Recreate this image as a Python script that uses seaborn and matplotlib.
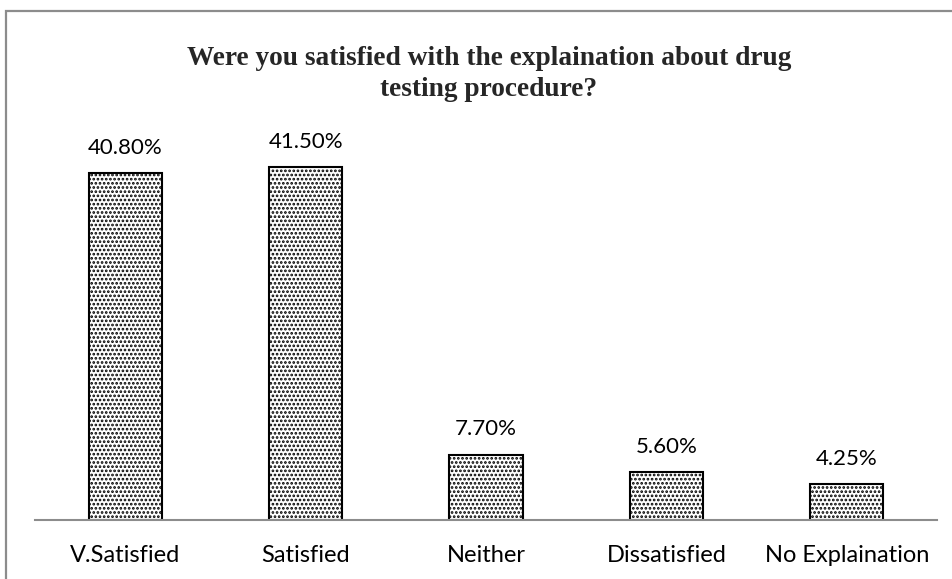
import matplotlib
matplotlib.use("Agg")
import matplotlib.pyplot as plt
import seaborn as sns
import pandas as pd
from matplotlib.patches import Rectangle

# Data
categories = ["V.Satisfied", "Satisfied", "Neither", "Dissatisfied", "No Explaination"]
percentages = [40.80, 41.50, 7.70, 5.60, 4.25]
value_labels = ["40.80%", "41.50%", "7.70%", "5.60%", "4.25%"]

df = pd.DataFrame({"category": categories, "pct": percentages})

sns.set_style("white")
plt.rcParams["font.family"] = ["Lato", "DejaVu Sans"]
plt.rcParams["hatch.linewidth"] = 1.3
plt.rcParams["hatch.color"] = "#3a3a3a"

W, H = 952, 579
fig = plt.figure(figsize=(W / 100, H / 100), dpi=100)
ax = fig.add_axes([35 / W, 1 - 520 / H, (937 - 35) / W, (520 - 100) / H])

sns.barplot(data=df, x="category", y="pct", ax=ax, width=0.405,
            color="white", edgecolor="black", linewidth=1.5)
for bar in ax.patches:
    bar.set_hatch("....")
    bar.set_edgecolor("black")

for bar, lab in zip(ax.patches, value_labels):
    ax.text(bar.get_x() + bar.get_width() / 2, bar.get_height() + 1.8, lab,
            ha="center", va="bottom", fontsize=16, color="black")

ax.set_ylim(0, 420 / 8.5)
ax.set_xlim(-0.5, 4.5)
ax.set_xlabel("")
ax.set_ylabel("")
ax.set_yticks([])
ax.tick_params(axis="x", length=0, labelsize=17, pad=18, colors="black")
for side in ["top", "right", "left"]:
    ax.spines[side].set_visible(False)
ax.spines["bottom"].set_color("#8c8c8c")
ax.spines["bottom"].set_linewidth(1.5)

fig.text(489 / W, 1 - 74 / H,
         "Were you satisfied with the explaination about drug\ntesting procedure?",
         ha="center", va="center", fontsize=19.7, fontweight="bold",
         family=["Liberation Serif", "DejaVu Serif"], linespacing=1.28)

# outer chart frame (only top and left visible in the reference)
fig.patches.append(Rectangle((6 / W, -0.1), 1.2, 1 - 11 / H + 0.1,
                             transform=fig.transFigure, fill=False,
                             edgecolor="#8c8c8c", linewidth=1.6))

fig.savefig("out.png", dpi=100)
